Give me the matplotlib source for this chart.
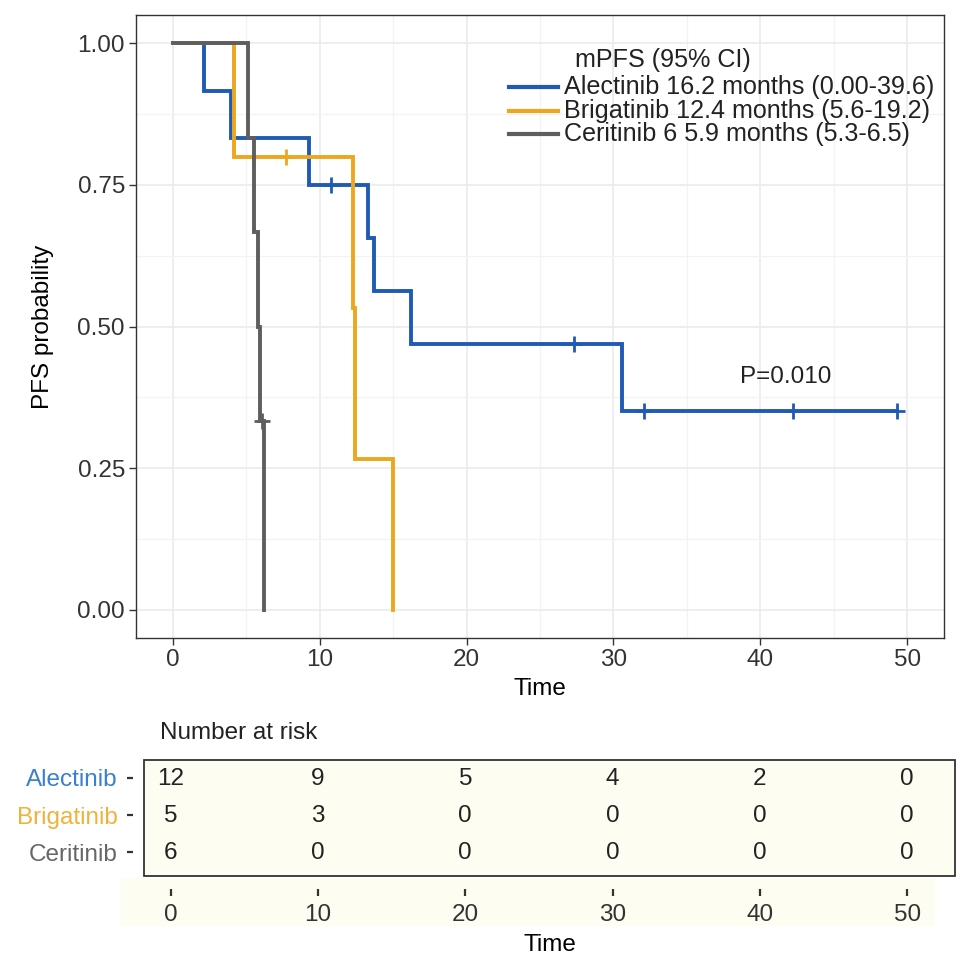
import matplotlib.pyplot as plt
from matplotlib.patches import Rectangle
from matplotlib.lines import Line2D

plt.rcParams['font.family'] = ['Liberation Sans', 'DejaVu Sans']

arms = ['Alectinib', 'Brigatinib', 'Ceritinib']
legend_labels = ['Alectinib 16.2 months (0.00-39.6)',
                 'Brigatinib 12.4 months (5.6-19.2)',
                 'Ceritinib 6 5.9 months (5.3-6.5)']
line_colors = ['#1f5bb4', '#eda71f', '#5e5e5e']
label_colors = ['#3a7fd1', '#f0b23c', '#666666']

# follow-up times (months) and event flags (1 = progression, 0 = censored)
alec_time = [2.1, 4.0, 9.3, 10.8, 13.3, 13.7, 16.2, 27.3, 30.6, 32.1, 42.2, 49.3]
alec_event = [1, 1, 1, 0, 1, 1, 1, 0, 1, 0, 0, 0]
brig_time = [4.2, 7.7, 12.3, 12.4, 15.0]
brig_event = [1, 0, 1, 1, 1]
ceri_time = [5.15, 5.5, 5.8, 5.95, 6.05, 6.2]
ceri_event = [1, 1, 1, 1, 0, 1]

risk_times = [0, 10, 20, 30, 40, 50]
alec_risk = [12, 9, 5, 4, 2, 0]
brig_risk = [5, 3, 0, 0, 0, 0]
ceri_risk = [6, 0, 0, 0, 0, 0]

p_text = 'P=0.010'


def km(times, events):
    s = 1.0
    at_risk = len(times)
    xs, ys, cx, cy = [0], [1.0], [], []
    for t, e in zip(times, events):
        if e:
            s = s * (at_risk - 1) / at_risk
            xs.append(t)
            ys.append(s)
        else:
            cx.append(t)
            cy.append(s)
        at_risk -= 1
    if xs[-1] < times[-1]:
        xs.append(times[-1])
        ys.append(s)
    return xs, ys, cx, cy


W, H = 969, 964
fig = plt.figure(figsize=(W / 100, H / 100), dpi=100)
fig.patch.set_facecolor('white')

dark = '#333333'
fs = 17.5

# --- survival panel ---
ax = fig.add_axes([136 / W, 1 - 638 / H, 808 / W, 623 / H])
ax.set_xlim(-2.5, 52.5)
ax.set_ylim(-0.05, 1.05)
ax.set_xticks(range(0, 51, 10))
ax.set_xticks(range(5, 51, 10), minor=True)
ax.set_yticks([0, 0.25, 0.5, 0.75, 1.0])
ax.set_yticklabels(['0.00', '0.25', '0.50', '0.75', '1.00'])
ax.set_yticks([0.125, 0.375, 0.625, 0.875], minor=True)
ax.grid(which='major', color='#ebebeb', lw=1.2)
ax.grid(which='minor', color='#f3f3f3', lw=0.9)
ax.set_axisbelow(True)
ax.tick_params(which='major', length=5, width=1.0, color=dark, labelcolor=dark,
               labelsize=fs, pad=3)
ax.tick_params(which='minor', length=0)
for sp in ax.spines.values():
    sp.set_color(dark)
    sp.set_linewidth(1.0)

data = [(alec_time, alec_event), (brig_time, brig_event), (ceri_time, ceri_event)]
for (t, e), c in zip(data, line_colors):
    xs, ys, cx, cy = km(t, e)
    ax.step(xs, ys, where='post', color=c, lw=2.8, solid_joinstyle='miter')
    ax.plot(cx, cy, ls='none', marker='+', ms=12, mew=2, color=c)

ax.set_xlabel('Time', fontsize=fs, color='black', labelpad=5)
ax.set_ylabel('PFS probability', fontsize=fs, color='black', labelpad=17)
ax.text(41.75, 0.41, p_text, ha='center', va='center', fontsize=fs, color='#222222')

# legend, drawn by hand to keep the tight row spacing
fs_leg = 18.1
fig.text(575 / W, 1 - 60 / H, 'mPFS (95% CI)', ha='left', va='center',
         fontsize=fs_leg, color='#222222')
for i, (lab, c) in enumerate(zip(legend_labels, line_colors)):
    yy = 1 - (87 + 23.7 * i) / H
    fig.add_artist(Line2D([509 / W, 558 / W], [yy, yy], color=c, lw=3,
                          transform=fig.transFigure))
    fig.text(564 / W, yy, lab, ha='left', va='center', fontsize=fs_leg, color='#222222')

# --- number at risk table ---
tint = '#fdfdf1'
fig.add_artist(Rectangle((120 / W, 1 - 926 / H), 815 / W, 48 / H,
                         transform=fig.transFigure, facecolor=tint,
                         edgecolor='none', zorder=-5))

ax2 = fig.add_axes([144 / W, 1 - 876 / H, 811 / W, 116 / H])
ax2.set_facecolor(tint)
ax2.set_xlim(-1.81, 53.24)
ax2.set_ylim(3.635, 0.525)
ax2.set_xticks(risk_times)
ax2.set_yticks([1, 2, 3])
ax2.set_yticklabels(arms)
ax2.spines['bottom'].set_position(('outward', 9))
ax2.spines['left'].set_position(('outward', 8))
for sp in ax2.spines.values():
    sp.set_visible(False)
ax2.add_patch(Rectangle((0, 0), 1, 1, transform=ax2.transAxes, facecolor='none',
                        edgecolor=dark, lw=1.3, clip_on=False))
ax2.tick_params(axis='x', length=5, width=1.6, color=dark, labelcolor=dark,
                labelsize=fs, pad=6)
ax2.tick_params(axis='y', length=4, width=1.6, color=dark, labelsize=fs, pad=7)
for lab, c in zip(ax2.get_yticklabels(), label_colors):
    lab.set_color(c)

for row, vals in enumerate([alec_risk, brig_risk, ceri_risk], start=1):
    for t, v in zip(risk_times, vals):
        ax2.text(t, row + 0.03, str(v), ha='center', va='center', fontsize=fs,
                 color='#222222')

ax2.set_xlabel('Time', fontsize=fs, color='black', labelpad=6)
fig.text(160 / W, 1 - 733 / H, 'Number at risk', ha='left', va='center',
         fontsize=fs, color='#222222')

fig.savefig('out.png', dpi=100)
